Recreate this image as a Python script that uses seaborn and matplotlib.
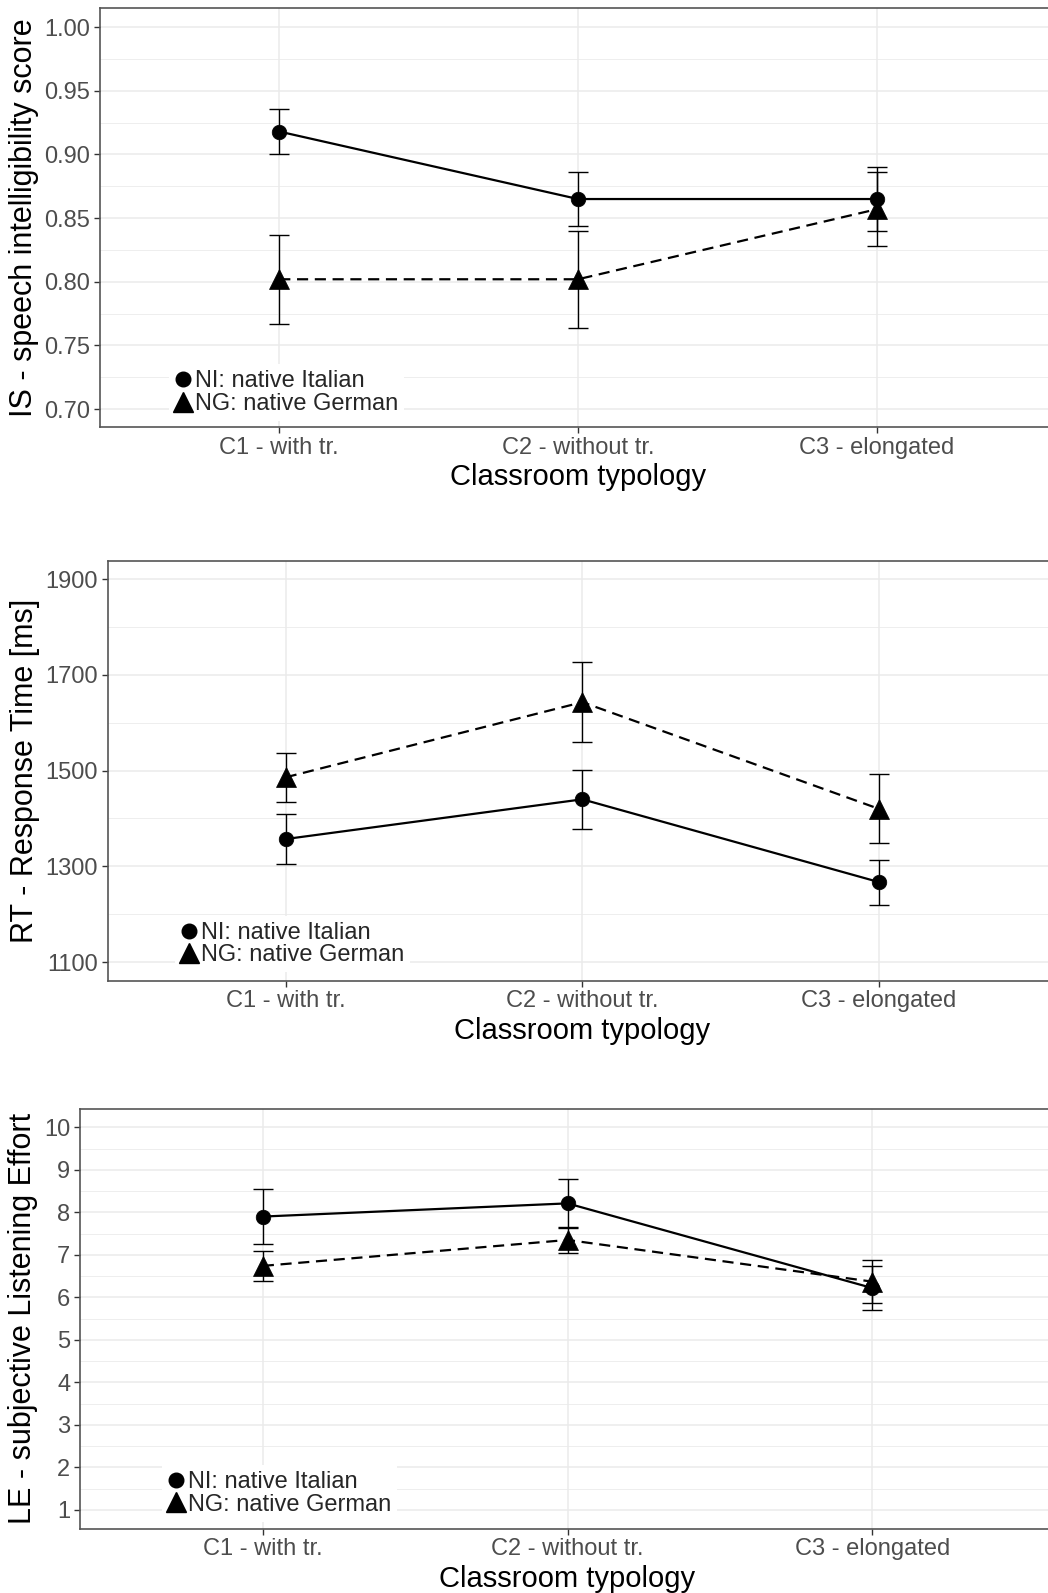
import numpy as np
import pandas as pd
import matplotlib
matplotlib.use("Agg")
import matplotlib.pyplot as plt
import seaborn as sns
from matplotlib.lines import Line2D
from matplotlib.ticker import FixedLocator

# ---------------- data ----------------
categories = ["C1 - with tr.", "C2 - without tr.", "C3 - elongated"]
groups = ["NI: native Italian", "NG: native German"]

is_ni = [0.918, 0.865, 0.865]
is_ni_err = [0.018, 0.021, 0.025]
is_ng = [0.802, 0.802, 0.857]
is_ng_err = [0.035, 0.038, 0.029]

rt_ni = [1357, 1440, 1267]
rt_ni_err = [52, 62, 47]
rt_ng = [1486, 1643, 1420]
rt_ng_err = [51, 83, 72]

le_ni = [7.90, 8.21, 6.22]
le_ni_err = [0.65, 0.57, 0.52]
le_ng = [6.74, 7.35, 6.37]
le_ng_err = [0.36, 0.31, 0.50]

is_ticks = [0.70, 0.75, 0.80, 0.85, 0.90, 0.95, 1.00]
is_ticklabels = ["0.70", "0.75", "0.80", "0.85", "0.90", "0.95", "1.00"]
rt_ticks = [1100, 1300, 1500, 1700, 1900]
rt_ticklabels = ["1100", "1300", "1500", "1700", "1900"]
le_ticks = [1, 2, 3, 4, 5, 6, 7, 8, 9, 10]
le_ticklabels = ["1", "2", "3", "4", "5", "6", "7", "8", "9", "10"]

# ---------------- style ----------------
sns.set_style("white")
plt.rcParams["font.family"] = ["Liberation Sans", "DejaVu Sans"]

GRID = "#EBEBEB"
BORDER = "#555555"
TICKLAB = "#4D4D4D"
DASH = (0, (5, 3))

fig = plt.figure(figsize=(10.48, 15.93), dpi=100)


def panel(rect, ni, ni_err, ng, ng_err, ylim, ticks, ticklabels, ylabel, leg_xy):
    ax = fig.add_axes(rect)
    df = pd.DataFrame({
        "typ": categories * 2,
        "val": list(ni) + list(ng),
        "grp": [groups[0]] * len(categories) + [groups[1]] * len(categories),
    })
    sns.pointplot(data=df, x="typ", y="val", hue="grp", hue_order=groups,
                  order=categories, palette=["black", "black"],
                  markers=["o", "^"], linestyles=["-", DASH],
                  errorbar=None, markersize=10.5, markeredgewidth=0.5,
                  linewidth=1.6, legend=False, ax=ax, zorder=3)
    for ln in ax.lines:
        if ln.get_marker() == "^":
            ln.set_markersize(14)

    xs = np.arange(len(categories))
    ax.errorbar(xs, ni, yerr=ni_err, fmt="none", ecolor="black",
                elinewidth=1.0, capsize=7, capthick=1.0, zorder=2)
    ax.errorbar(xs, ng, yerr=ng_err, fmt="none", ecolor="black",
                elinewidth=1.0, capsize=7, capthick=1.0, zorder=2)

    ax.set_xlim(-0.6, len(categories) - 0.4)
    ax.set_ylim(*ylim)
    ax.yaxis.set_major_locator(FixedLocator(ticks))
    ax.set_yticklabels(ticklabels)
    step = ticks[1] - ticks[0]
    minors = [t + step / 2 for t in ticks[:-1]]
    minors = [ticks[0] - step / 2] + minors + [ticks[-1] + step / 2]
    ax.yaxis.set_minor_locator(FixedLocator(minors))

    ax.set_axisbelow(True)
    ax.grid(False)
    ax.xaxis.grid(True, which="major", color=GRID, linewidth=1.1)
    ax.yaxis.grid(True, which="major", color=GRID, linewidth=1.1)
    ax.yaxis.grid(True, which="minor", color=GRID, linewidth=0.6)

    for sp in ax.spines.values():
        sp.set_visible(True)
        sp.set_color(BORDER)
        sp.set_linewidth(1.2)

    ax.tick_params(which="major", bottom=True, left=True, length=4, width=1,
                   color="#333333", labelcolor=TICKLAB, labelsize=17, pad=3)
    ax.tick_params(which="minor", length=0)

    ax.set_xlabel("Classroom typology", fontsize=21, color="black", labelpad=3)
    ax.set_ylabel(ylabel, fontsize=22, color="black", labelpad=4)

    handles = [
        Line2D([0], [0], marker="o", color="black", ls="none", markersize=10.5),
        Line2D([0], [0], marker="^", color="black", ls="none", markersize=14),
    ]
    leg = ax.legend(handles, groups, loc="lower left", bbox_to_anchor=leg_xy,
                    bbox_transform=ax.transAxes, borderaxespad=0,
                    fontsize=17, frameon=True, fancybox=False, framealpha=1,
                    facecolor="white", edgecolor="none", handlelength=0.7,
                    handletextpad=0.15, labelspacing=0.02, borderpad=0.25)
    leg.set_zorder(5)
    return ax


panel([0.09542, 0.73195, 0.91221, 0.26303], is_ni, is_ni_err, is_ng, is_ng_err,
      (0.686, 1.015), is_ticks, is_ticklabels,
      "IS - speech intelligibility score", (0.072, 0.015))

panel([0.10277, 0.38437, 0.90582, 0.26347], rt_ni, rt_ni_err, rt_ng, rt_ng_err,
      (1061, 1938), rt_ticks, rt_ticklabels,
      "RT - Response Time [ms]", (0.071, 0.020))

panel([0.07634, 0.04037, 0.93034, 0.26347], le_ni, le_ni_err, le_ng, le_ng_err,
      (0.56, 10.43), le_ticks, le_ticklabels,
      "LE - subjective Listening Effort", (0.084, 0.017))

fig.savefig("out.png", dpi=100, facecolor="white")
